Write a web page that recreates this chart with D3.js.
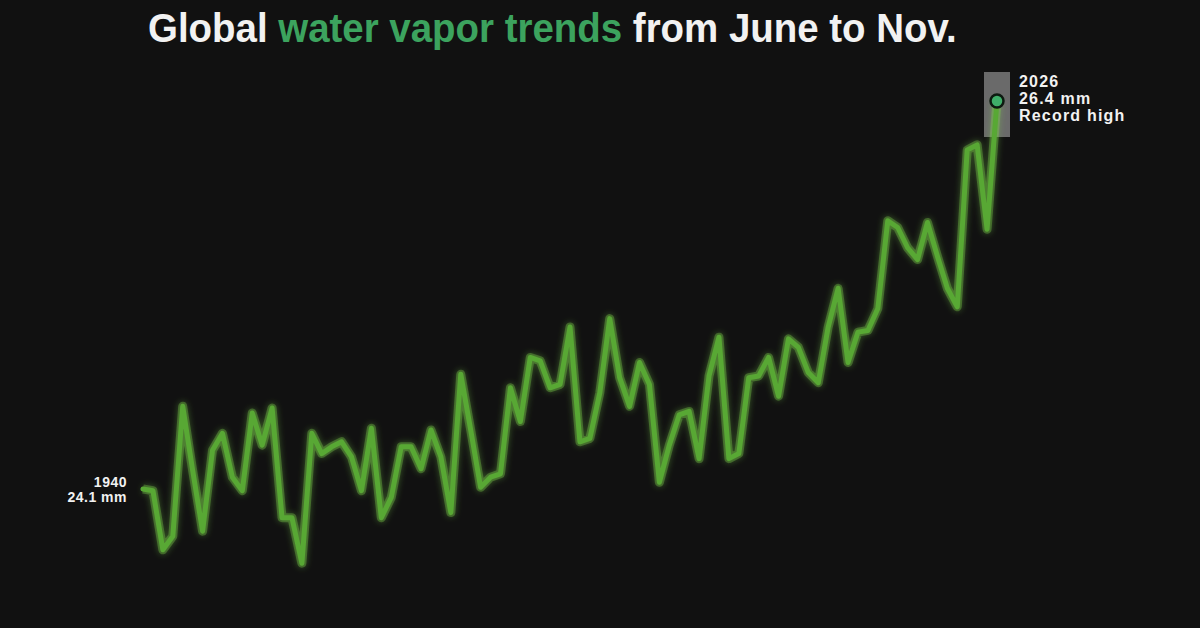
<!DOCTYPE html>
<html><head><meta charset="utf-8">
<script src="https://cdn.jsdelivr.net/npm/d3@7"></script>
<style>
html,body{margin:0;padding:0;background:#111111;}
svg{display:block;}
</style></head>
<body>
<svg id="chart" width="1200" height="628"></svg>
<script>
const years = d3.range(1940, 2027);
const values = [
 24.10,24.09,23.74,23.82,24.59,24.21,23.85,24.33,24.43,24.17,
 24.09,24.55,24.36,24.58,23.93,23.93,23.66,24.43,24.31,24.35,
 24.38,24.29,24.09,24.46,23.93,24.05,24.35,24.35,24.22,24.45,
 24.29,23.96,24.78,24.45,24.11,24.17,24.19,24.70,24.50,24.88,
 24.86,24.70,24.72,25.06,24.38,24.40,24.67,25.11,24.76,24.59,
 24.85,24.72,24.14,24.36,24.54,24.56,24.28,24.77,25.00,24.28,
 24.31,24.76,24.77,24.88,24.65,24.99,24.94,24.79,24.73,25.06,
 25.29,24.85,25.03,25.04,25.17,25.69,25.65,25.53,25.46,25.68,
 25.48,25.29,25.18,26.11,26.14,25.64,26.40
];
const titleParts = [
  {text: "Global ", highlight: false},
  {text: "water vapor trends", highlight: true},
  {text: " from June to Nov.", highlight: false}
];
const startLabel = ["1940", "24.1 mm"];
const endLabel = ["2026", "26.4 mm", "Record high"];

const svg = d3.select("#chart");
const W = 1200, H = 628;
svg.append("rect").attr("width", W).attr("height", H).attr("fill", "#111111");

const x = d3.scaleLinear().domain([1940, 2026]).range([143, 997]);
const y = d3.scaleLinear().domain([24.1, 26.4]).range([489, 101]);

const defs = svg.append("defs");
const f = defs.append("filter").attr("id", "glow").attr("x", "-10%").attr("y", "-10%").attr("width", "120%").attr("height", "120%");
f.append("feGaussianBlur").attr("in", "SourceGraphic").attr("stdDeviation", 3).attr("result", "b");
const m = f.append("feMerge");
m.append("feMergeNode").attr("in", "b");
m.append("feMergeNode").attr("in", "SourceGraphic");

svg.append("rect")
  .attr("x", x(2026) - 13).attr("y", 72)
  .attr("width", 26).attr("height", 65)
  .attr("fill", "#6a6a6a");

const line = d3.line().x((d, i) => x(years[i])).y(d => y(d)).curve(d3.curveLinear);

svg.append("path").datum(values)
  .attr("d", line)
  .attr("fill", "none")
  .attr("stroke", "#7bd04a")
  .attr("stroke-width", 9)
  .attr("stroke-opacity", 0.35)
  .attr("stroke-linejoin", "round")
  .attr("filter", "url(#glow)");
svg.append("path").datum(values)
  .attr("d", line)
  .attr("fill", "none")
  .attr("stroke", "#58a834")
  .attr("stroke-width", 5)
  .attr("stroke-linejoin", "round")
  .attr("stroke-linecap", "round");

svg.append("circle")
  .attr("cx", x(2026)).attr("cy", y(26.4)).attr("r", 6.5)
  .attr("fill", "#3fae69").attr("stroke", "#0d1a10").attr("stroke-width", 2.5);

const titleG = svg.append("g").attr("transform", "translate(148,42)");
const title = titleG.append("text")
  .attr("x", 0).attr("y", 0)
  .attr("font-family", "'Liberation Sans', Arial, sans-serif")
  .attr("font-weight", "bold")
  .attr("font-size", 40);
title.selectAll("tspan").data(titleParts).enter().append("tspan")
  .attr("fill", d => d.highlight ? "#3ca35e" : "#f2f2f2")
  .style("white-space", "pre")
  .text(d => d.text);
const tw = title.node().getComputedTextLength();
if (tw > 0) {
  titleG.attr("transform", `translate(148,42) scale(${809 / tw},1)`);
}

svg.append("text")
  .attr("x", 127).attr("y", 487)
  .attr("text-anchor", "end")
  .attr("font-family", "'Liberation Sans', Arial, sans-serif")
  .attr("font-weight", "bold").attr("font-size", 14)
  .attr("letter-spacing", 0.5)
  .attr("fill", "#f2f2f2")
  .selectAll("tspan").data(startLabel).enter().append("tspan")
  .attr("x", 127).attr("dy", (d, i) => i === 0 ? 0 : 15)
  .text(d => d);

svg.append("text")
  .attr("x", 1019).attr("y", 87)
  .attr("font-family", "'Liberation Sans', Arial, sans-serif")
  .attr("font-weight", "bold").attr("font-size", 16)
  .attr("letter-spacing", 1.2)
  .attr("fill", "#f2f2f2")
  .selectAll("tspan").data(endLabel).enter().append("tspan")
  .attr("x", 1019).attr("dy", (d, i) => i === 0 ? 0 : 17)
  .text(d => d);
</script>
</body></html>
